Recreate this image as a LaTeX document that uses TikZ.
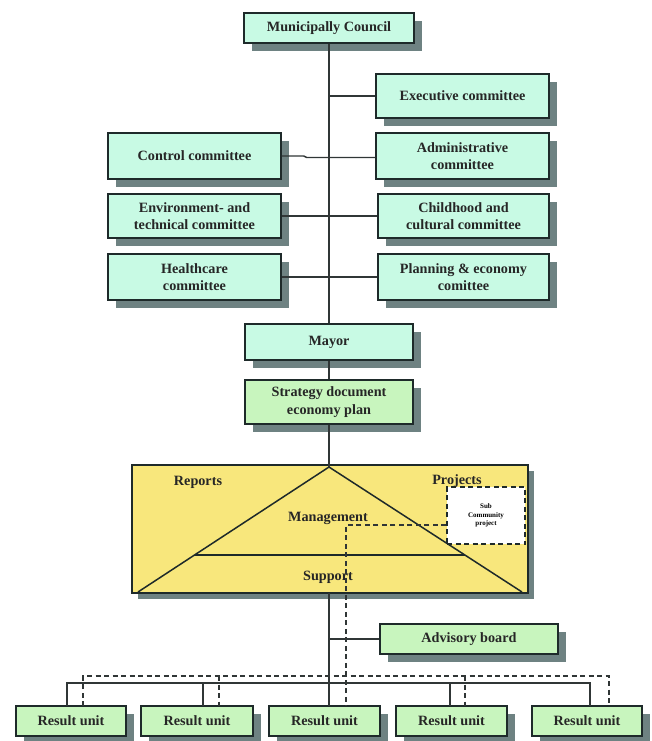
\documentclass[tikz,border=0pt]{standalone}
\usepackage{fontspec}
\setmainfont{Liberation Serif}
\usetikzlibrary{shadows,calc}
\definecolor{aqua}{HTML}{C8FAE4}
\definecolor{mint}{HTML}{C8F5BE}
\definecolor{yel}{HTML}{F8E77C}
\definecolor{shad}{HTML}{6E8282}
\definecolor{edge}{HTML}{1E2A2A}
\definecolor{wire}{HTML}{303636}
\tikzset{
  box/.style={rectangle, draw=edge, line width=1.4pt, align=center, inner sep=0pt,
    font=\fontsize{14.2}{17.5}\selectfont\bfseries, text=black!85,
    drop shadow={shadow xshift=8pt, shadow yshift=-8pt, fill=shad, opacity=1}},
  abox/.style={box, fill=aqua},
  gbox/.style={box, fill=mint},
  wirestyle/.style={draw=wire, line width=1.4pt},
  dwire/.style={draw=wire, line width=1.5pt, dash pattern=on 5pt off 3.5pt},
  lbl/.style={inner sep=0pt, font=\fontsize{14.2}{17.5}\selectfont\bfseries, text=black!85}
}
\begin{document}
\begin{tikzpicture}[x=1pt,y=-1pt]
\useasboundingbox (0,0) rectangle (652,741);
% committee boxes
\node[abox, minimum width=170, minimum height=30] (council) at (329,28) {Municipally Council};
\node[abox, minimum width=173, minimum height=44] (exec) at (462.5,96) {Executive committee};
\node[abox, minimum width=173, minimum height=46] (control) at (194.5,156) {Control committee};
\node[abox, minimum width=173, minimum height=46] (admin) at (462.5,156) {Administrative\\committee};
\node[abox, minimum width=173, minimum height=44] (env) at (194.5,216) {Environment- and\\technical committee};
\node[abox, minimum width=171, minimum height=44] (child) at (463.5,216) {Childhood and\\cultural committee};
\node[abox, minimum width=173, minimum height=46] (health) at (194.5,277) {Healthcare\\committee};
\node[abox, minimum width=171, minimum height=46] (plan) at (463.5,277) {Planning \& economy\\comittee};
\node[abox, minimum width=168, minimum height=36] (mayor) at (329,342) {Mayor};
\node[gbox, minimum width=168, minimum height=44] (strat) at (329,402) {Strategy document\\economy plan};
% yellow panel
\node[rectangle, draw=edge, line width=1.4pt, fill=yel, minimum width=396, minimum height=128,
  drop shadow={shadow xshift=6pt, shadow yshift=-6pt, fill=shad, opacity=1}] (panel) at (330,529) {};
\coordinate (apex) at (329,467);
\coordinate (bl) at (138,592);
\coordinate (br) at (522,592);
\draw[draw=edge, line width=1.5pt] (bl) -- (apex) -- (br);
\draw[draw=edge, line width=1.5pt] (194.5,555) -- (465,555);
\node[rectangle, draw=edge, fill=white, line width=1.5pt, dash pattern=on 5pt off 3.5pt,
  minimum width=78, minimum height=57, inner sep=0pt, align=center,
  font=\fontsize{7}{8.5}\selectfont\bfseries] (sub) at (486,515.5) {Sub\\Community\\project};
\node[lbl] (reports) at (198,482) {Reports};
\node[lbl] (projects) at (457,481) {Projects};
\node[lbl] (mgmt) at (328,518) {Management};
\node[lbl] (support) at (328,577) {Support};
% lower boxes
\node[gbox, minimum width=178, minimum height=30] (adv) at (469,639) {Advisory board};
\node[gbox, minimum width=110, minimum height=30] (r1) at (71,721) {Result unit};
\node[gbox, minimum width=112, minimum height=30] (r2) at (197,721) {Result unit};
\node[gbox, minimum width=111, minimum height=30] (r3) at (324.5,721) {Result unit};
\node[gbox, minimum width=111, minimum height=30] (r4) at (451.5,721) {Result unit};
\node[gbox, minimum width=110, minimum height=30] (r5) at (587,721) {Result unit};
% spine
\draw[wirestyle] (council.south) -- (mayor.north);
\draw[wirestyle] (mayor.south) -- (strat.north);
\draw[wirestyle] (strat.south) -- (apex);
\coordinate (pbot) at (329,593);
\coordinate (spinebot) at (329,706);
\draw[wirestyle] (pbot) -- (spinebot);
% branches
\draw[wirestyle] (exec.west) -- (exec.west -| council.south);
\draw[wirestyle] (control.east) -- ++(22,0) -- ++(3,1.5) -- ($(admin.west)+(0,1.5)$);
\draw[wirestyle] (env.east) -- (child.west);
\draw[wirestyle] (health.east) -- (plan.west);
\draw[wirestyle] (adv.west) -- (adv.west -| council.south);
% solid bus
\draw[wirestyle] (67,706) -- (67,683) -- (590,683) -- (590,706);
\draw[wirestyle] (203,683) -- (203,706);
\draw[wirestyle] (450,683) -- (450,706);
% dashed links
\coordinate (dcorner) at (346,525);
\draw[dwire] (dcorner -| sub.west) -- (dcorner) -- (dcorner |- r3.north);
\draw[dwire] (83,706) -- (83,676) -- (609,676) -- (609,706);
\draw[dwire] (219,676) -- (219,706);
\draw[dwire] (465,676) -- (465,706);
\end{tikzpicture}
\end{document}
